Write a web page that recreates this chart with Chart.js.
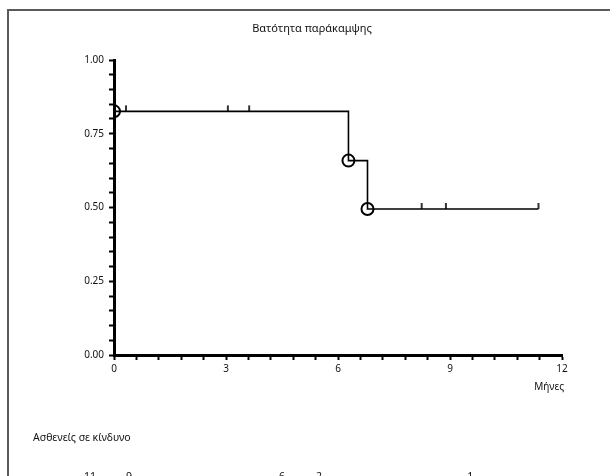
<!DOCTYPE html>
<html>
<head>
<meta charset="utf-8">
<script src="https://cdn.jsdelivr.net/npm/chart.js@4"></script>
<style>
  html, body { margin: 0; padding: 0; background: #fff; }
  #wrap { width: 610px; height: 476px; position: relative; }
</style>
</head>
<body>
<div id="wrap"><canvas id="km" width="610" height="476"></canvas></div>
<script>
// survival steps (months, survival)
const stepTimes = [0, 6.28, 6.79, 11.37];
const stepSurv = [0.826, 0.659, 0.495, 0.495];
const eventRadius = [6, 6, 6, 0];

// censored observations
const censorTimes = [0.32, 3.05, 3.62, 8.24, 8.89, 11.37];
const censorSurv = [0.826, 0.826, 0.826, 0.495, 0.495, 0.495];

// numbers at risk, placed along the time axis
const atRiskCounts = ['11', '9', '6', '2', '1'];
const atRiskAt = [-0.64, 0.4, 4.5, 5.49, 9.54];

const xLabelTicks = [0, 3, 6, 9, 12];
const yLabelTicks = [0, 0.25, 0.5, 0.75, 1];

const FONT = "'Noto Sans', 'Open Sans', sans-serif";

// censor mark: short vertical stroke above the curve
const censorMark = document.createElement('canvas');
censorMark.width = 4; censorMark.height = 14;
(function () {
  const c = censorMark.getContext('2d');
  c.strokeStyle = '#000'; c.lineWidth = 1.6;
  c.beginPath(); c.moveTo(2, 1); c.lineTo(2, 7); c.stroke();
})();

const extras = {
  id: 'extras',
  afterDraw(chart) {
    const ctx = chart.ctx;
    const x = chart.scales.x;
    ctx.save();
    // frame
    ctx.strokeStyle = '#5a5a5a';
    ctx.lineWidth = 2;
    ctx.strokeRect(8, 10, 700, 700);
    ctx.fillStyle = '#111';
    ctx.textBaseline = 'middle';
    ctx.font = '11px ' + FONT;
    ctx.textAlign = 'center';
    ctx.fillText('Βατότητα παράκαμψης', 312, 29);
    ctx.font = '10px ' + FONT;
    ctx.textAlign = 'right';
    ctx.fillText('Μήνες', x.right + 2, 387);
    ctx.textAlign = 'left';
    ctx.font = '10.5px ' + FONT;
    ctx.fillText('Ασθενείς σε κίνδυνο', 33, 438);
    ctx.textAlign = 'center';
    atRiskCounts.forEach((n, i) => {
      ctx.fillText(n, x.getPixelForValue(atRiskAt[i]), 477);
    });
    ctx.restore();
  }
};

new Chart(document.getElementById('km'), {
  type: 'scatter',
  data: {
    datasets: [
      {
        data: stepTimes.map((t, i) => ({ x: t, y: stepSurv[i] })),
        showLine: true,
        stepped: 'before',
        borderColor: '#000',
        borderWidth: 1.6,
        pointRadius: eventRadius,
        pointBorderWidth: 2,
        pointBorderColor: '#000',
        pointBackgroundColor: 'rgba(0,0,0,0)'
      },
      {
        data: censorTimes.map((t, i) => ({ x: t, y: censorSurv[i] })),
        showLine: false,
        pointStyle: censorMark,
        pointRadius: 7
      }
    ]
  },
  options: {
    responsive: false,
    animation: false,
    layout: { padding: { left: 74, right: 48, top: 60, bottom: 91 } },
    plugins: { legend: { display: false }, tooltip: { enabled: false } },
    scales: {
      x: {
        type: 'linear', min: 0, max: 12,
        afterFit: s => { s.height = 30; },
        afterBuildTicks: s => { s.ticks = Array.from({ length: 21 }, (_, i) => ({ value: +(i * 0.6).toFixed(1) })); },
        ticks: {
          autoSkip: false, maxRotation: 0, padding: 3,
          color: '#111', font: { family: FONT, size: 10 },
          callback: v => xLabelTicks.includes(Math.round(v * 10) / 10) ? String(Math.round(v)) : ''
        },
        grid: { drawOnChartArea: false, tickLength: 5, tickColor: '#000', tickWidth: 2 },
        border: { color: '#000', width: 3 }
      },
      y: {
        min: 0, max: 1,
        afterFit: s => { s.width = 40; },
        afterBuildTicks: s => { s.ticks = Array.from({ length: 21 }, (_, i) => ({ value: +(i * 0.05).toFixed(2) })); },
        ticks: {
          autoSkip: false, padding: 5,
          color: '#111', font: { family: FONT, size: 10 },
          callback: v => yLabelTicks.includes(Math.round(v * 100) / 100) ? v.toFixed(2) : ''
        },
        grid: { drawOnChartArea: false, tickLength: 5, tickColor: '#000', tickWidth: 2 },
        border: { color: '#000', width: 3 }
      }
    }
  },
  plugins: [extras]
});
</script>
</body>
</html>
